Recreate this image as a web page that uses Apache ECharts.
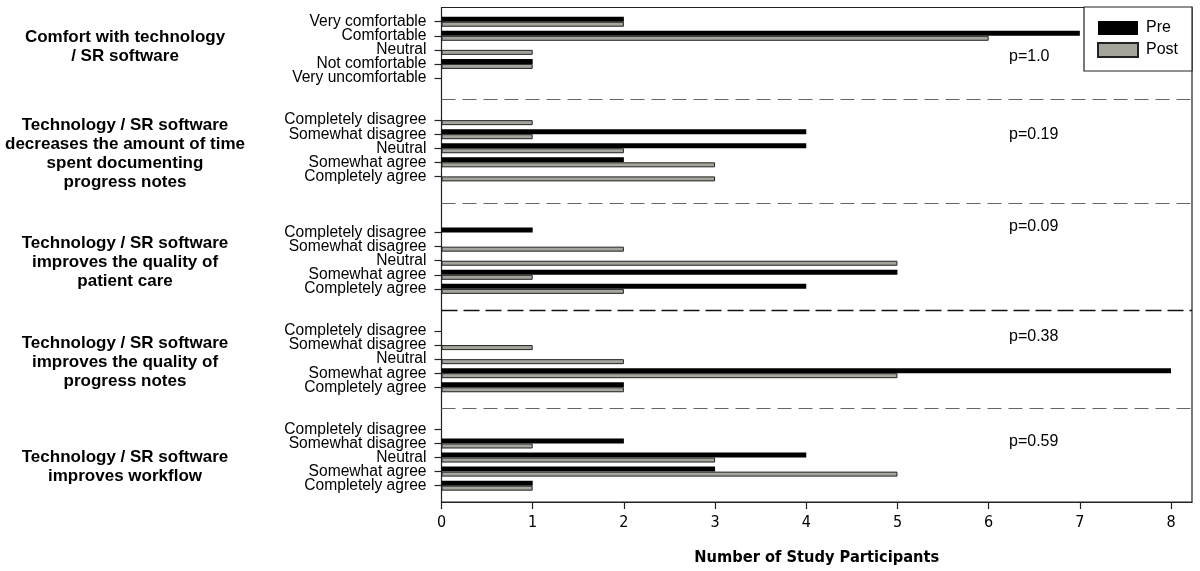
<!DOCTYPE html>
<html>
<head>
<meta charset="utf-8">
<script src="https://cdn.jsdelivr.net/npm/echarts@6/dist/echarts.min.js"></script>
<style>
html,body{margin:0;padding:0;background:#fff;}
#chart{width:1200px;height:571px;}
</style>
</head>
<body>
<div id="chart"></div>
<script>
// ---- data ----
const sectionTitles = [
  'Comfort with technology\n/ SR software',
  'Technology / SR software\ndecreases the amount of time\nspent documenting\nprogress notes',
  'Technology / SR software\nimproves the quality of\npatient care',
  'Technology / SR software\nimproves the quality of\nprogress notes',
  'Technology / SR software\nimproves workflow'
];
const pValues = ['p=1.0', 'p=0.19', 'p=0.09', 'p=0.38', 'p=0.59'];
const comfortScale = ['Very comfortable', 'Comfortable', 'Neutral', 'Not comfortable', 'Very uncomfortable'];
const agreementScale = ['Completely disagree', 'Somewhat disagree', 'Neutral', 'Somewhat agree', 'Completely agree'];
const preCounts = [
  [2, 7, 0, 1, 0],
  [0, 4, 4, 2, 0],
  [1, 0, 0, 5, 4],
  [0, 0, 0, 8, 2],
  [0, 2, 4, 3, 1]
];
const postCounts = [
  [2, 6, 1, 1, 0],
  [1, 1, 2, 3, 3],
  [0, 2, 5, 1, 2],
  [0, 1, 2, 5, 2],
  [0, 1, 3, 5, 1]
];
const xTicks = [0, 1, 2, 3, 4, 5, 6, 7, 8];
const seriesNames = ['Pre', 'Post'];

// ---- layout helpers ----
const FONT = '"Liberation Sans", Arial, Helvetica, sans-serif';
const NARROW = '"Liberation Sans Narrow", "Arial Narrow", "DejaVu Sans Condensed", "Liberation Sans", sans-serif';
const blanksAfter = [2, 3, 2, 2];
const scales = [comfortScale, agreementScale, agreementScale, agreementScale, agreementScale];
const cats = [], pre = [], post = [], sepPos = [];
scales.forEach((sc, s) => {
  sc.forEach((lab, i) => { cats.push(lab); pre.push(preCounts[s][i]); post.push(postCounts[s][i]); });
  if (s < blanksAfter.length) {
    const start = cats.length;
    for (let k = 0; k < blanksAfter[s]; k++) { cats.push(''); pre.push(null); post.push(null); }
    sepPos.push(start - 0.5 + blanksAfter[s] / 2 + (blanksAfter[s] === 3 ? -0.1 : 0));
  }
});
const nCat = cats.length;

const chart = echarts.init(document.getElementById('chart'), null, {renderer: 'canvas'});

const GL = 441.5, GR = 8, XMAX = 8.23;
const titleY = [47, 153.5, 262, 362, 466.5];
const pY = [56.7, 135, 226.7, 337, 441.7];

const sepStyles = [
  {color: '#666', width: 1, type: [14, 7]},
  {color: '#666', width: 1, type: [14, 7]},
  {color: '#111', width: 1.4, type: [16, 6]},
  {color: '#666', width: 1, type: [14, 7]}
];

const graphics = [];
sectionTitles.forEach((t, i) => {
  graphics.push({
    type: 'text', x: 125, y: titleY[i], silent: true,
    style: {text: t, font: 'bold 17px ' + FONT, fill: '#000', align: 'center', verticalAlign: 'middle', lineHeight: 19}
  });
});
pValues.forEach((t, i) => {
  graphics.push({
    type: 'text', x: 1009, y: pY[i], silent: true,
    style: {text: t, font: '16px ' + FONT, fill: '#000', align: 'left', verticalAlign: 'middle'}
  });
});

const option = {
  animation: false,
  backgroundColor: '#fff',
  legend: {
    data: seriesNames,
    orient: 'vertical',
    left: 1084, top: 7,
    padding: [13, 14, 13, 13],
    itemWidth: 40, itemHeight: 14, itemGap: 6,
    icon: 'rect',
    backgroundColor: '#fff',
    borderColor: '#222', borderWidth: 1.2, borderRadius: 0,
    textStyle: {fontSize: 16, color: '#000', fontFamily: FONT, padding: [0, 0, 0, 3]},
    z: 10
  },
  grid: [
    {left: GL, right: GR, top: 7.5, bottom: 67, show: true, borderColor: '#222', borderWidth: 1.2, backgroundColor: 'transparent'},
    {left: GL, right: GR, top: 14.7, bottom: 78.3}
  ],
  xAxis: [
    {
      type: 'value', gridIndex: 0, min: 0, max: XMAX, interval: 1,
      name: 'Number of Study Participants', nameLocation: 'middle', nameGap: 48,
      nameTextStyle: {fontFamily: NARROW, fontWeight: 'bold', fontSize: 16.3, color: '#000'},
      axisLine: {show: true, lineStyle: {color: '#222', width: 1.2}},
      axisTick: {show: true, length: 7, lineStyle: {color: '#222', width: 1.2}, customValues: xTicks},
      axisLabel: {show: true, margin: 13, fontFamily: NARROW, fontSize: 16, color: '#000', customValues: xTicks},
      splitLine: {show: false}
    },
    {type: 'value', gridIndex: 1, min: 0, max: XMAX, show: false, splitLine: {show: false}}
  ],
  yAxis: [
    {type: 'value', gridIndex: 0, show: false, min: 0, max: 1, splitLine: {show: false}},
    {
      type: 'category', gridIndex: 1, inverse: true, data: cats,
      axisLine: {show: false},
      axisTick: {show: true, alignWithLabel: true, length: 7, lineStyle: {color: '#222', width: 1.2},
        interval: (idx, val) => val !== ''},
      axisLabel: {interval: 0, margin: 15, fontFamily: FONT, fontSize: 15.6, color: '#000'},
      splitLine: {show: false}
    },
    {type: 'value', gridIndex: 1, inverse: true, min: -0.5, max: nCat - 0.5, show: false, splitLine: {show: false}}
  ],
  series: [
    {
      name: 'Pre', type: 'bar', xAxisIndex: 1, yAxisIndex: 1, data: pre,
      barWidth: 5, barGap: '0%',
      itemStyle: {color: '#000'}
    },
    {
      name: 'Post', type: 'bar', xAxisIndex: 1, yAxisIndex: 1, data: post,
      barWidth: 5, barGap: '0%',
      itemStyle: {color: '#a5a59b', borderColor: '#222', borderWidth: 1}
    },
    {
      name: 'sep', type: 'line', xAxisIndex: 1, yAxisIndex: 2, data: [],
      silent: true,
      markLine: {
        silent: true, symbol: 'none', label: {show: false},
        data: sepPos.map((v, i) => ({yAxis: v, lineStyle: sepStyles[i]}))
      }
    }
  ],
  graphic: graphics
};
chart.setOption(option);
</script>
</body>
</html>
